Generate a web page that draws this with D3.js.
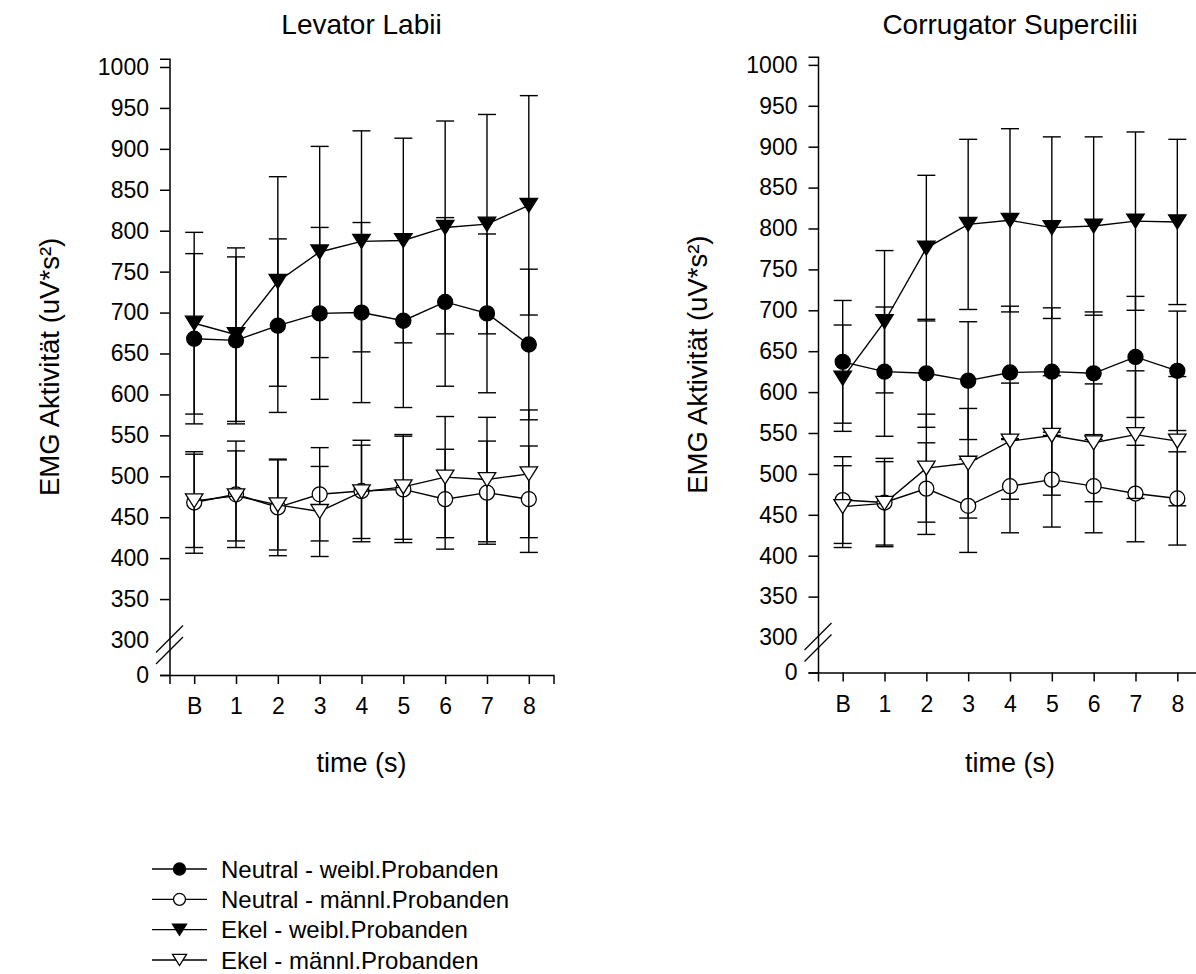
<!DOCTYPE html>
<html>
<head>
<meta charset="utf-8">
<script src="https://cdn.jsdelivr.net/npm/d3@7"></script>
<style>
  body { margin: 0; background: #fff; }
  text { font-family: "Liberation Sans", Arial, sans-serif; fill: #000; }
</style>
</head>
<body>
<script>
// categories / ticks
var timeLabels = ['B', '1', '2', '3', '4', '5', '6', '7', '8'];
var yTickValues = [0, 300, 350, 400, 450, 500, 550, 600, 650, 700, 750, 800, 850, 900, 950, 1000];
var seriesNames = ['Neutral - weibl.Probanden', 'Neutral - männl.Probanden', 'Ekel - weibl.Probanden', 'Ekel - männl.Probanden'];
var panelTitles = ['Levator Labii', 'Corrugator Supercilii'];

// Levator Labii: means and standard deviations
var levNeutralW   = [668, 666, 684, 699, 700, 690, 713, 699, 661];
var levNeutralWSd = [104, 102, 106, 105, 110, 106, 103, 97, 92];
var levNeutralM   = [468, 478, 462, 478, 482, 484, 472, 480, 472];
var levNeutralMSd = [62, 65, 59, 57, 62, 65, 61, 63, 65];
var levEkelW      = [687, 673, 738, 774, 787, 788, 804, 808, 831];
var levEkelWSd    = [111, 106, 128, 129, 135, 125, 130, 134, 134];
var levEkelM      = [470, 476, 465, 457, 481, 487, 499, 496, 503];
var levEkelMSd    = [57, 55, 55, 55, 57, 64, 74, 76, 78];

// Corrugator Supercilii: means and standard deviations
var corNeutralW   = [637, 625, 623, 614, 624, 625, 623, 643, 626];
var corNeutralWSd = [75, 79, 66, 72, 81, 78, 75, 74, 73];
var corNeutralM   = [468, 465, 482, 461, 485, 493, 485, 476, 470];
var corNeutralMSd = [53, 54, 56, 57, 57, 58, 57, 59, 57];
var corEkelW      = [617, 686, 776, 805, 810, 801, 803, 809, 808];
var corEkelWSd    = [65, 87, 89, 104, 112, 111, 109, 109, 101];
var corEkelM      = [460, 464, 507, 513, 540, 547, 538, 548, 540];
var corEkelMSd    = [50, 51, 66, 67, 71, 73, 72, 78, 79];

window.onload = function() {
  var width = 1196;
  var height = 974;

  var svg = d3.select('body').append('svg')
              .attr('width', width)
              .attr('height', height);

  // marker styles: filled circle, open circle, filled triangle, open triangle
  var markerStyles = [
    {shape: 'circle', fill: '#000'},
    {shape: 'circle', fill: '#fff'},
    {shape: 'triangle', fill: '#000'},
    {shape: 'triangle', fill: '#fff'}
  ];

  function triPath(w, h) {
    return 'M' + (-w / 2) + ',' + (-h / 2) + 'L' + (w / 2) + ',' + (-h / 2) + 'L0,' + (h / 2) + 'Z';
  }

  function drawMarker(sel, style, k) {
    k = k || 1;
    if (style.shape === 'circle') {
      sel.append('circle').attr('r', 7.5 * k);
    } else {
      sel.append('path').attr('d', triPath(17.5 * k, 14 * k));
    }
    sel.selectAll('circle, path')
       .attr('fill', style.fill)
       .attr('stroke', '#000')
       .attr('stroke-width', 1.3);
  }

  var panels = [
    {
      title: panelTitles[0],
      xRange: [169.5, 553.5], yRange: [675, 640, 58.8],
      means: [levNeutralW, levNeutralM, levEkelW, levEkelM],
      sds: [levNeutralWSd, levNeutralMSd, levEkelWSd, levEkelMSd]
    },
    {
      title: panelTitles[1],
      xRange: [818, 1202], yRange: [672.5, 637.5, 56.7],
      means: [corNeutralW, corNeutralM, corEkelW, corEkelM],
      sds: [corNeutralWSd, corNeutralMSd, corEkelWSd, corEkelMSd]
    }
  ];

  panels.forEach(function(p) {
    var x = d3.scalePoint().domain(timeLabels).range(p.xRange).padding(0.59);
    // broken axis: 0..300 squeezed below the break
    var y = d3.scaleLinear().domain([0, 300, 1010]).range(p.yRange);
    var x0 = p.xRange[0];
    var cx = (p.xRange[0] + p.xRange[1]) / 2;

    var g = svg.append('g');

    // y axis
    var yAxis = g.append('g')
                 .attr('transform', 'translate(' + x0 + ',0)')
                 .call(d3.axisLeft(y).tickValues(yTickValues).tickSizeOuter(0)
                         .tickSize(9.5).tickPadding(11).tickFormat(d3.format('d')));
    yAxis.selectAll('.tick line').filter(function(d) { return d === 300; }).remove();

    // x axis
    var xAxis = g.append('g')
                 .attr('transform', 'translate(0,' + p.yRange[0] + ')')
                 .call(d3.axisBottom(x).tickSizeOuter(0).tickSize(9).tickPadding(14));

    g.selectAll('.domain, .tick line').attr('stroke', '#000').attr('stroke-width', 1.5);
    g.selectAll('.tick text').attr('font-size', 23).attr('fill', '#000')
     .style('font-family', '"Liberation Sans", Arial, sans-serif');

    // axis break marks
    [y(300) - 1, y(300) + 10.5].forEach(function(by) {
      g.append('line')
       .attr('x1', x0 - 13.5).attr('y1', by + 13.5)
       .attr('x2', x0 + 13.5).attr('y2', by - 13.5)
       .attr('stroke', '#000').attr('stroke-width', 1.2);
    });

    // titles
    g.append('text').attr('x', cx).attr('y', 34)
     .attr('text-anchor', 'middle').attr('font-size', 28).text(p.title);
    g.append('text').attr('x', cx).attr('y', 772)
     .attr('text-anchor', 'middle').attr('font-size', 27).text('time (s)');
    g.append('text')
     .attr('transform', 'translate(' + (x0 - 111) + ',' + ((p.yRange[0] + p.yRange[2]) / 2) + ') rotate(-90)')
     .attr('text-anchor', 'middle').attr('font-size', 27.5).text('EMG Aktivität (uV*s²)');

    var line = d3.line()
                 .x(function(d, i) { return x(timeLabels[i]); })
                 .y(function(d) { return y(d); });

    p.means.forEach(function(vals, si) {
      var sd = p.sds[si];
      var sg = g.append('g');

      sg.append('path').datum(vals)
        .attr('d', line).attr('fill', 'none')
        .attr('stroke', '#000').attr('stroke-width', 1.4);

      var eb = sg.selectAll('.eb').data(vals).enter().append('g').attr('class', 'eb');
      eb.append('line')
        .attr('x1', function(d, i) { return x(timeLabels[i]); })
        .attr('x2', function(d, i) { return x(timeLabels[i]); })
        .attr('y1', function(d, i) { return y(d - sd[i]); })
        .attr('y2', function(d, i) { return y(d + sd[i]); });
      [1, -1].forEach(function(sign) {
        eb.append('line')
          .attr('x1', function(d, i) { return x(timeLabels[i]) - 9; })
          .attr('x2', function(d, i) { return x(timeLabels[i]) + 9; })
          .attr('y1', function(d, i) { return y(d + sign * sd[i]); })
          .attr('y2', function(d, i) { return y(d + sign * sd[i]); });
      });
      eb.selectAll('line').attr('stroke', '#000').attr('stroke-width', 1.4);

      var mk = sg.selectAll('.mk').data(vals).enter().append('g').attr('class', 'mk')
                 .attr('transform', function(d, i) { return 'translate(' + x(timeLabels[i]) + ',' + y(d) + ')'; });
      drawMarker(mk, markerStyles[si]);
    });
  });

  // legend
  var legend = svg.append('g');
  var rowY = d3.scaleLinear().domain([0, 3]).range([869, 960]);
  seriesNames.forEach(function(name, i) {
    var row = legend.append('g').attr('transform', 'translate(0,' + rowY(i) + ')');
    row.append('line').attr('x1', 152).attr('x2', 207).attr('y1', 0).attr('y2', 0)
       .attr('stroke', '#000').attr('stroke-width', 1.4);
    var m = row.append('g').attr('transform', 'translate(179.5,0)');
    drawMarker(m, markerStyles[i], 0.8);
    row.append('text').attr('x', 221).attr('y', 8.5).attr('font-size', 24).text(name);
  });
};
</script>
</body>
</html>
